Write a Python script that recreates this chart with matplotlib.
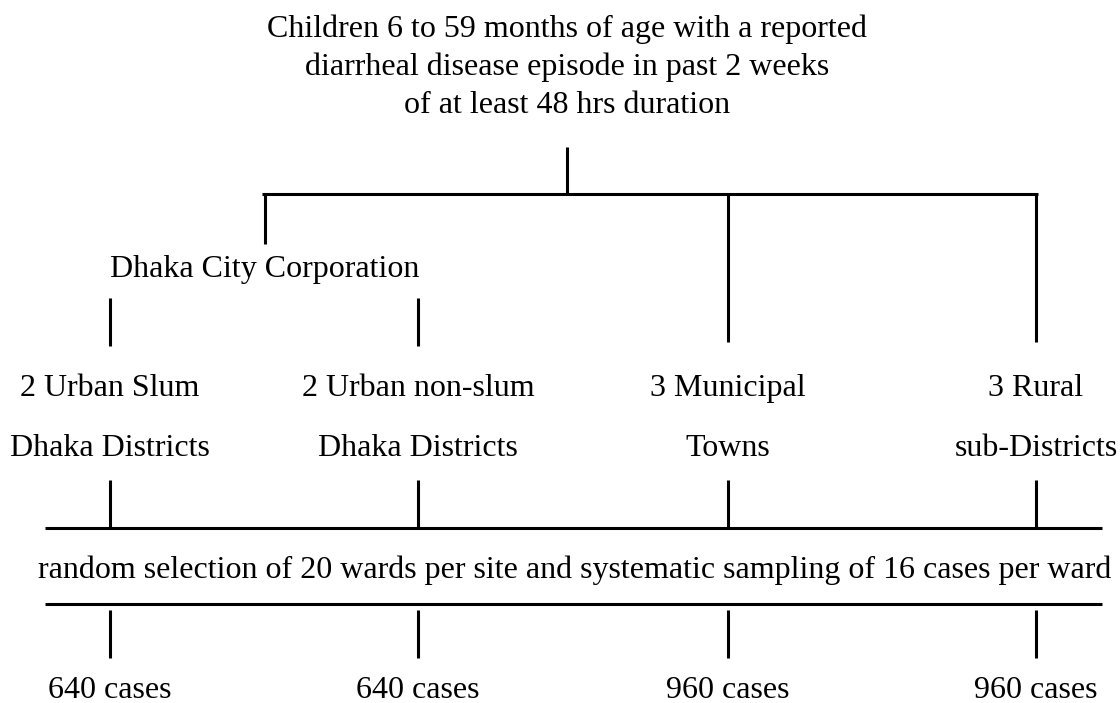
import matplotlib
matplotlib.use('Agg')
import matplotlib.pyplot as plt

# flow chart content
title_lines = ['Children 6 to 59 months of age with a reported',
               'diarrheal disease episode in past 2 weeks',
               'of at least 48 hrs duration']
corp_label = 'Dhaka City Corporation'
site_line1 = ['2 Urban Slum', '2 Urban non-slum', '3 Municipal', '3 Rural']
site_line2 = ['Dhaka Districts', 'Dhaka Districts', 'Towns', 'sub-Districts']
sampling_text = 'random selection of 20 wards per site and systematic sampling of 16 cases per ward'
cases = [640, 640, 960, 960]

# layout in pixel coordinates (text y = baseline)
site_x = [110, 418, 728, 1036]
fs = 23
lw = 2.2

fig = plt.figure(figsize=(11.2, 7.03), dpi=100)
ax = fig.add_axes([0, 0, 1, 1])
ax.set_xlim(0, 1120)
ax.set_ylim(703, 0)
ax.axis('off')

plt.rcParams['font.family'] = ['Liberation Serif', 'DejaVu Serif']

def txt(x, y, s):
    ax.text(x, y, s, ha='center', va='baseline', fontsize=fs,
            family=['Liberation Serif', 'DejaVu Serif'])

def line(xs, ys):
    ax.plot(xs, ys, color='black', lw=lw, solid_capstyle='butt')

# title
for i, s in enumerate(title_lines):
    txt(567, 37 + i * 38, s)

# top branching
line([567, 567], [147, 194])
line([262, 1038], [194, 194])
line([265, 265], [194, 244])
line([site_x[2], site_x[2]], [194, 342])
line([site_x[3], site_x[3]], [194, 342])

txt(265, 277, corp_label)
for x in site_x[:2]:
    line([x, x], [298, 346])

# site labels
for x, a, b in zip(site_x, site_line1, site_line2):
    txt(x, 396, a)
    txt(x, 456, b)
    line([x, x], [480, 528])

# sampling band
line([45, 1102], [528, 528])
txt(575, 578, sampling_text)
line([45, 1102], [604, 604])

# case counts
for x, n in zip(site_x, cases):
    line([x, x], [610, 658])
    txt(x, 698, f'{n} cases')

fig.savefig('out.png', dpi=100, facecolor='white')
